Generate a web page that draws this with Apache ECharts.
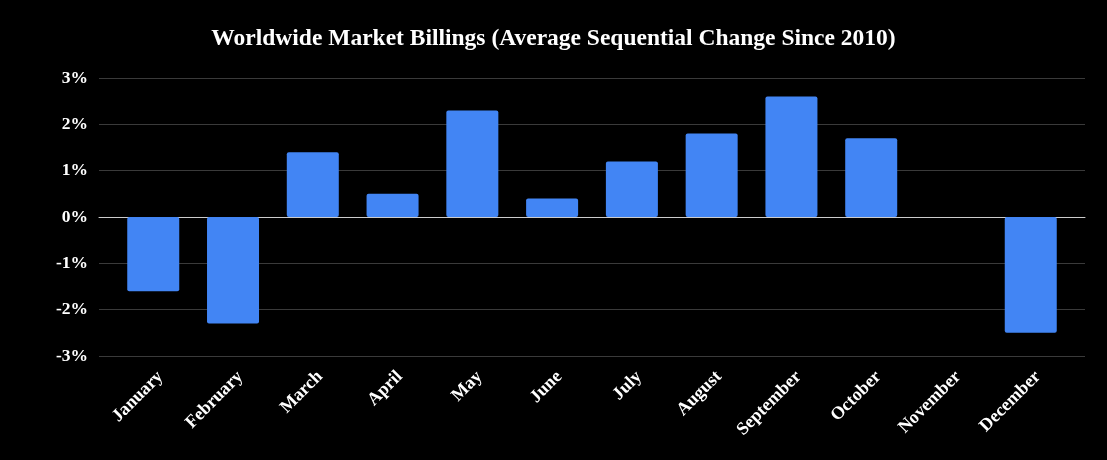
<!DOCTYPE html>
<html><head><meta charset="utf-8">
<script src="https://cdn.jsdelivr.net/npm/echarts@6/dist/echarts.min.js"></script>
<style>html,body{margin:0;padding:0;background:#000;}#c{width:1107px;height:460px;}</style>
</head><body><div id="c"></div>
<script>
const categories = ["January","February","March","April","May","June","July","August","September","October","November","December"];
const values = [-1.6, -2.3, 1.4, 0.5, 2.3, 0.4, 1.2, 1.8, 2.6, 1.7, 0, -2.5];
const yTicks = {min: -3, max: 3, interval: 1};
const titleText = "Worldwide Market Billings (Average Sequential Change Since 2010)";
const font = "'Liberation Serif', 'Times New Roman', serif";
const labelShift = 0.09;
const labelPos = categories.map((c, i) => i + labelShift);
const chart = echarts.init(document.getElementById('c'));
chart.setOption({
  backgroundColor: '#000',
  animation: false,
  title: {text: titleText, left: 'center', top: 22,
    textStyle: {color: '#fff', fontFamily: font, fontWeight: 'bold', fontSize: 23.5}},
  grid: {left: 99, right: 22, top: 78, bottom: 104},
  xAxis: {type: 'value', min: -0.68, max: categories.length - 1 + 0.68,
    splitLine: {show: false},
    axisLine: {show: true, onZero: true, lineStyle: {color: '#cccccc', width: 1}},
    axisTick: {show: false},
    axisLabel: {customValues: labelPos, color: '#fff', rotate: 45, fontFamily: font, fontWeight: 'bold', fontSize: 18, margin: 18,
      formatter: v => categories[Math.round(v)]}},
  yAxis: {type: 'value', min: yTicks.min, max: yTicks.max, interval: yTicks.interval,
    axisLine: {show: false}, axisTick: {show: false},
    splitLine: {lineStyle: {color: '#3a3a3a', width: 1}},
    axisLabel: {color: '#fff', fontFamily: font, fontWeight: 'bold', fontSize: 17.5, margin: 11,
      formatter: v => v + '%'}},
  series: [{type: 'bar', data: values.map((v, i) => [i, v]), barWidth: 52,
    itemStyle: {color: '#4285f4', borderRadius: 2}}]
});
</script></body></html>
